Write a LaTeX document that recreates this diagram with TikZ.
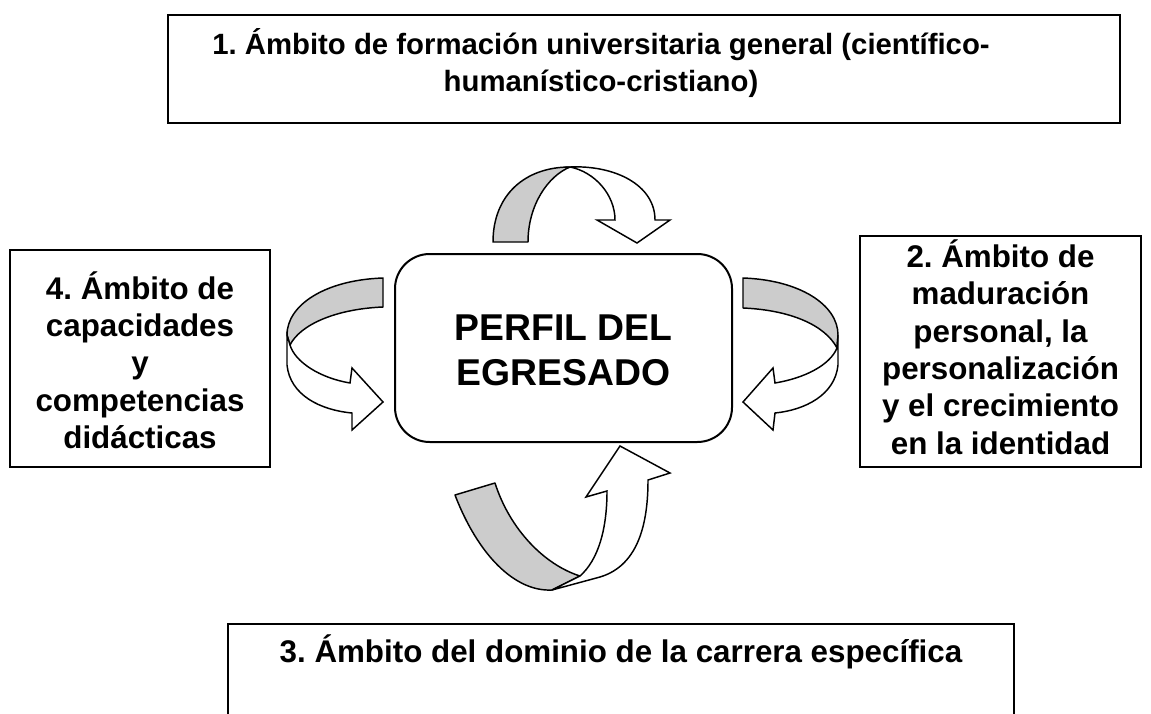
\documentclass[tikz,border=0pt]{standalone}
\usepackage{fontspec}
\setmainfont{Liberation Sans}
\frenchspacing
\definecolor{bandgray}{RGB}{204,204,204}
\begin{document}
\begin{tikzpicture}[x=0.75pt,y=-0.75pt,
  boxstyle/.style={draw=black,line width=1.5pt,inner sep=0pt,fill=white},
  centerbox/.style={boxstyle,rounded corners=26pt},
  txt/.style={inner sep=0pt,align=center,font=\fontsize{22}{27.8}\selectfont\bfseries},
  sidetxt/.style={inner sep=0pt,align=center,font=\fontsize{23.5}{28}\selectfont\bfseries},
  bottxt/.style={inner sep=0pt,align=center,font=\fontsize{23.5}{28}\selectfont\bfseries},
  bigtxt/.style={inner sep=0pt,align=center,font=\fontsize{28}{33.75}\selectfont\bfseries},
  backband/.style={draw=black,line width=1.1pt,fill=bandgray,line join=round},
  frontband/.style={draw=black,line width=1.1pt,fill=white,line join=miter}]
\useasboundingbox (0,0) rectangle (1151,713);
\clip (0,0) rectangle (1151,713);
\fill[white] (0,0) rectangle (1151,713);

% boxes
\node[boxstyle,minimum width=714pt,minimum height=81pt] (b1) at (644,69) {};
\node[boxstyle,minimum width=195pt,minimum height=162.75pt] (b4) at (140,358.5) {};
\node[boxstyle,minimum width=210.75pt,minimum height=173.25pt] (b2) at (1000.5,351.5) {};
\node[boxstyle,minimum width=589.5pt,minimum height=102pt] (b3) at (621,692) {};
\node[centerbox,minimum width=252.75pt,minimum height=141pt] (c) at (563.5,348) {};

% texts
\node[txt] (t1) at (601,63) {1. Ámbito de formación universitaria general (científico-\\humanístico-cristiano)};
\node[sidetxt] (t4) at (140,360) {4. Ámbito de\\capacidades\\y\\competencias\\didácticas};
\node[sidetxt] (t2) at (1000.5,347) {2. Ámbito de\\maduración\\personal, la\\personalización\\y el crecimiento\\en la identidad};
\node[bottxt,anchor=base] (t3) at (621,662) {3. Ámbito del dominio de la carrera específica};
\node[bigtxt] (tc) at (563.5,350) {PERFIL DEL\\EGRESADO};

% top arrow
\draw[backband] (493,242) .. controls (493,195) and (525,167) .. (570,167)
  .. controls (548,176) and (528,205) .. (528,242) -- cycle;
\draw[frontband] (570,167) .. controls (615,165) and (655,185) .. (655,220)
  -- (670,220) -- (637,243) -- (597,220) -- (615,220)
  .. controls (615,195) and (595,172) .. (570,167) -- cycle;

% left arrow
\draw[backband] (383,278) .. controls (325,280) and (287,305) .. (287,335)
  -- (290,345) .. controls (300,325) and (335,309) .. (383,307) -- cycle;
\draw[frontband] (287,335) -- (287,365) .. controls (290,395) and (320,410) .. (352,413)
  -- (352,430) -- (383,402) -- (352,368) -- (350,383)
  .. controls (320,378) and (295,362) .. (290,345) -- cycle;

% right arrow
\draw[backband] (743,278) .. controls (800,280) and (838,305) .. (838,335)
  -- (837,348) .. controls (825,325) and (790,310) .. (743,308) -- cycle;
\draw[frontband] (838,335) -- (838,365) .. controls (835,395) and (805,410) .. (775,413)
  -- (773,430) -- (743,402) -- (773,368) -- (775,383)
  .. controls (805,378) and (830,365) .. (837,348) -- cycle;

% bottom arrow
\draw[backband] (455,495) .. controls (478,555) and (515,592) .. (552,590)
  -- (580,576) .. controls (545,565) and (510,530) .. (495,483) -- cycle;
\draw[frontband] (552,590) -- (600,577) .. controls (640,565) and (648,520) .. (648,480)
  -- (670,473) -- (620,446) -- (586,497) -- (607,491)
  .. controls (607,530) and (598,560) .. (580,576) -- cycle;
\end{tikzpicture}
\end{document}
